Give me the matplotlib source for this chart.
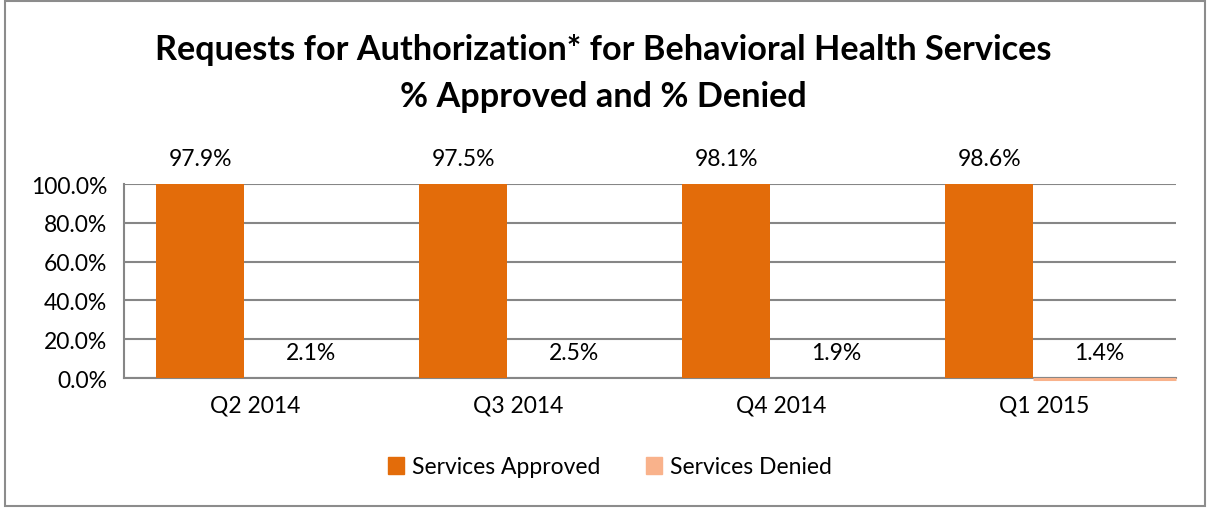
import matplotlib
matplotlib.use("Agg")
import matplotlib.pyplot as plt
import numpy as np
from matplotlib.patches import Rectangle, Patch

plt.rcParams['font.family'] = ['Lato', 'DejaVu Sans']

# data
quarters = ['Q2 2014', 'Q3 2014', 'Q4 2014', 'Q1 2015']
approved_labels = [97.9, 97.5, 98.1, 98.6]
denied_labels = [2.1, 2.5, 1.9, 1.4]
# bar heights as they are drawn in the original (approved bars fill the axis)
approved_height = [1.0, 1.0, 1.0, 1.0]
denied_height = [0.0, 0.0, 0.0, 0.0]
y_ticks = [0.0, 0.2, 0.4, 0.6, 0.8, 1.0]

orange = '#E36C0A'
peach = '#F9B28B'
grid_gray = '#868686'
fs = 16.5

W, H = 1207, 510
fig = plt.figure(figsize=(W / 100, H / 100), dpi=100)

# outer chart border
fig.patches.append(Rectangle((5 / W, 3 / H), 1200 / W, 505 / H, transform=fig.transFigure,
                             fill=False, edgecolor='#8c8c8c', linewidth=1.5))

ax = fig.add_axes([124 / W, 1 - 379 / H, 1052 / W, 194 / H])

x = np.arange(len(quarters))
width = 0.335
offset = 0.21

ax.bar(x - offset, approved_height, width, color=orange, zorder=3, label='Services Approved')
ax.bar(x + offset, denied_height, width, color=peach, zorder=3, label='Services Denied')

for i in range(len(quarters)):
    ax.annotate(f'{approved_labels[i]:.1f}%', (x[i] - offset, approved_height[i]),
                xytext=(0, 18), textcoords='offset points', ha='center', va='center',
                fontsize=fs)
    ax.annotate(f'{denied_labels[i]:.1f}%', (x[i] + offset, denied_height[i]),
                xytext=(0, 18), textcoords='offset points', ha='center', va='center',
                fontsize=fs)

ax.set_xlim(-0.5, len(quarters) - 0.5)
ax.set_ylim(0, 1.0)

# thin denied line along the axis for the last quarter
ax.hlines(-0.006, x[-1] - offset + width / 2, len(quarters) - 0.5, color=peach,
          linewidth=2.2, zorder=5, clip_on=False)

ax.set_yticks(y_ticks)
ax.set_yticklabels([f'{v * 100:.1f}%' for v in y_ticks])
ax.set_xticks(x)
ax.set_xticklabels(quarters)
ax.tick_params(axis='both', length=0, labelsize=fs)
ax.tick_params(axis='y', pad=12)
ax.tick_params(axis='x', pad=12)

ax.yaxis.grid(True, color=grid_gray, linewidth=1.5, zorder=0)
ax.set_axisbelow(True)
for side in ['top', 'right']:
    ax.spines[side].set_visible(False)
for side in ['left', 'bottom']:
    ax.spines[side].set_color(grid_gray)
    ax.spines[side].set_linewidth(1.5)

fig.text(0.5, 1 - 50 / H, 'Requests for Authorization* for Behavioral Health Services',
         ha='center', va='center', fontsize=24.7, fontweight='bold')
fig.text(0.5, 1 - 97 / H, '% Approved and % Denied',
         ha='center', va='center', fontsize=24.7, fontweight='bold')

handles = [Patch(color=orange), Patch(color=peach)]
fig.legend(handles, ['Services Approved', 'Services Denied'], loc='center',
           bbox_to_anchor=(610 / W, 1 - 468 / H), ncol=2, frameon=False,
           fontsize=fs, handlelength=0.7, handleheight=0.7, handletextpad=0.35,
           columnspacing=2.0)

fig.savefig('out.png', dpi=100)
